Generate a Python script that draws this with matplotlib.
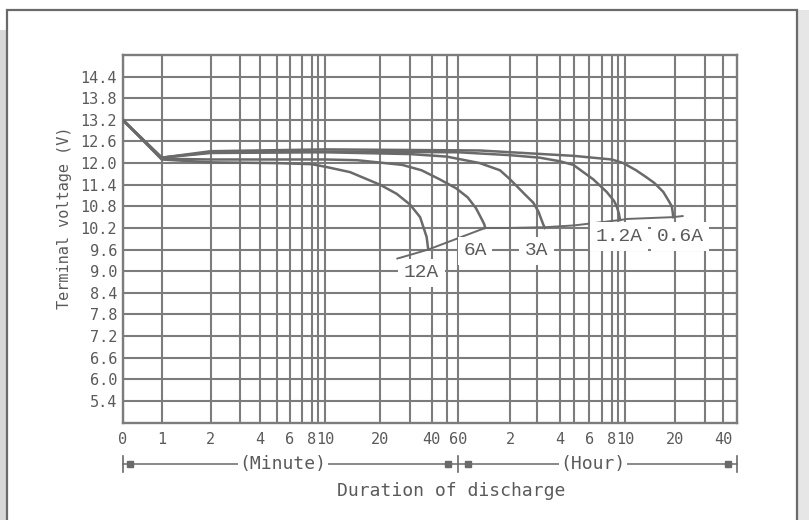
import numpy as np
import matplotlib
matplotlib.use("Agg")
import matplotlib.pyplot as plt
import matplotlib.transforms as mtrans
from matplotlib.patches import Rectangle
from matplotlib.ticker import FixedLocator, NullFormatter

# ---------------- data (time in minutes, voltage in V) ----------------
series_labels = ["12A", "6A", "3A", "1.2A", "0.6A"]

t_12A = [0, 1, 2, 5, 8, 10, 13.7, 20, 25, 30, 34.3, 37.4, 38.2]
v_12A = [13.2, 12.1, 12.02, 12.0, 11.97, 11.9, 11.75, 11.4, 11.15, 10.85, 10.5, 9.95, 9.6]

t_6A = [0, 1, 2, 10, 15, 27, 35, 45, 58, 68, 76, 82, 85, 86]
v_6A = [13.2, 12.12, 12.1, 12.1, 12.08, 11.95, 11.8, 11.55, 11.3, 11.05, 10.75, 10.45, 10.3, 10.2]

t_3A = [0, 1, 2, 10, 30, 50, 80, 105, 120, 153, 171, 184, 195, 199]
v_3A = [13.2, 12.15, 12.28, 12.3, 12.25, 12.18, 12.0, 11.8, 11.55, 11.1, 10.9, 10.65, 10.3, 10.2]

t_1p2A = [0, 1, 2, 10, 60, 120, 187, 240, 297, 335, 378, 449, 500, 525, 545, 555]
v_1p2A = [13.2, 12.15, 12.3, 12.32, 12.3, 12.22, 12.15, 12.05, 11.95, 11.75, 11.55, 11.2, 10.95, 10.8, 10.6, 10.42]

t_0p6A = [0, 1, 2, 10, 80, 300, 480, 584, 700, 811, 900, 1020, 1100, 1148, 1165, 1170]
v_0p6A = [13.2, 12.15, 12.33, 12.38, 12.35, 12.2, 12.1, 12.0, 11.8, 11.6, 11.45, 11.2, 10.95, 10.8, 10.6, 10.5]

# end-of-discharge line
t_end = [25.3, 38.2, 86, 120, 199, 300, 555, 620, 1170, 1330]
v_end = [9.35, 9.6, 10.2, 10.2, 10.22, 10.27, 10.42, 10.45, 10.5, 10.53]

# label anchors (minutes, volts)
label_t = [35, 75, 180, 546, 1285]
label_v = [8.95, 9.57, 9.57, 9.96, 9.96]

# axis ticks
x_tick_minutes = [0, 1, 2, 4, 6, 8, 10, 20, 40, 60, 120, 240, 360, 480, 600, 1200, 2400]
x_tick_labels = ["0", "1", "2", "4", "6", "8", "10", "20", "40", "60",
                 "2", "4", "6", "8", "10", "20", "40"]
grid_minutes = [1, 2, 3, 4, 5, 6, 7, 8, 9, 10, 20, 30, 40, 50, 60, 120, 180, 240,
                300, 360, 420, 480, 540, 600, 1200, 1800, 2400]
y_tick_values = [14.4, 13.8, 13.2, 12.6, 12.0, 11.4, 10.8, 10.2, 9.6, 9.0,
                 8.4, 7.8, 7.2, 6.6, 6.0, 5.4]
y_tick_labels = ["14.4", "13.8", "13.2", "12.6", "12.0", "11.4", "10.8", "10.2",
                 "9.6", "9.0", "8.4", "7.8", "7.2", "6.6", "6.0", "5.4"]

# ---------------- hand-drawn time axis scale ----------------
SCALE_T = np.array([0, 1, 2, 3, 4, 5, 6, 7, 8, 9, 10, 20, 30, 40, 50, 60, 120, 180,
                    240, 300, 360, 420, 480, 540, 600, 1200, 1800, 2400, 3000], float)
SCALE_P = np.array([122.7, 161.7, 210.7, 240, 260, 276.7, 290, 301.7, 311.7, 318.3,
                    325, 380, 410, 431.7, 446.7, 458.3, 510, 536.7, 560, 574, 589.3,
                    601.7, 611.7, 618.3, 625, 675, 705, 723.3, 736.7])


def _to_l(t):
    t = np.asarray(t, float)
    return np.where(t > 1, np.log10(np.maximum(t, 1)), t - 1)


SCALE_L = _to_l(SCALE_T)


def fwd(t):
    return np.interp(_to_l(t), SCALE_L, SCALE_P)


def inv(p):
    l = np.interp(np.asarray(p, float), SCALE_P, SCALE_L)
    return np.where(l > 0, 10 ** np.maximum(l, 0), l + 1)


# ---------------- figure ----------------
W, H = 809, 520
fig = plt.figure(figsize=(W / 100, H / 100), dpi=100)
fig.patch.set_facecolor("white")

# outer panel decoration (behind the axes)
fig.patches.append(Rectangle((0, 0), 7 / W, 1 - 30 / H, transform=fig.transFigure,
                             facecolor="#d8d8d8", edgecolor="none", zorder=-3))
fig.patches.append(Rectangle((797 / W, 0), 12 / W, 1 - 10 / H, transform=fig.transFigure,
                             facecolor="#e6e6e6", edgecolor="none", zorder=-3))
fig.patches.append(Rectangle((7 / W, -0.05), 790 / W, 1.05 - 10 / H, transform=fig.transFigure,
                             facecolor="white", edgecolor="#6a6a6a", lw=1.6, zorder=-2))

GRID = "#7c7c7c"
LINE = "#6a6a6a"
TXT = "#5a5a5a"
MONO = "DejaVu Sans Mono"

ax = fig.add_axes([122.7 / W, 1 - 422.5 / H, (736.7 - 122.7) / W, (422.5 - 55) / H])
ax.set_zorder(1)
ax.set_xscale("function", functions=(fwd, inv))
ax.set_xlim(0, 3000)
ax.set_ylim(4.8, 15.0)

ax.xaxis.set_major_locator(FixedLocator(x_tick_minutes))
ax.set_xticklabels(x_tick_labels)
ax.xaxis.set_minor_locator(FixedLocator(grid_minutes))
ax.xaxis.set_minor_formatter(NullFormatter())
ax.set_yticks(y_tick_values)
ax.set_yticklabels(y_tick_labels)

ax.tick_params(which="both", length=0, colors=TXT)
ax.tick_params(axis="x", pad=7, labelsize=11)
ax.tick_params(axis="y", pad=4, labelsize=11)
for lab in ax.get_xticklabels() + ax.get_yticklabels():
    lab.set_family(MONO)

ax.grid(which="both", axis="x", color=GRID, lw=1.5)
ax.grid(which="major", axis="y", color=GRID, lw=1.5)
ax.set_axisbelow(True)
for s in ax.spines.values():
    s.set_color(GRID)
    s.set_linewidth(1.7)

series = [(t_12A, v_12A), (t_6A, v_6A), (t_3A, v_3A), (t_1p2A, v_1p2A), (t_0p6A, v_0p6A)]
for t, v in series:
    ax.plot(t, v, color=LINE, lw=1.8, zorder=3)
ax.plot(t_end, v_end, color=LINE, lw=1.4, zorder=3)

for lab, tx, vy in zip(series_labels, label_t, label_v):
    ax.text(tx, vy, lab, ha="center", va="center", family="Liberation Mono",
            fontsize=14, color=TXT, zorder=6,
            bbox=dict(facecolor="white", edgecolor="none", pad=4))

# axis titles
fig.text(65 / W, 1 - 218 / H, "Terminal voltage (V)", rotation=90, ha="center",
         va="center", family=MONO, fontsize=11, color=TXT)
fig.text(451 / W, 1 - 491 / H, "Duration of discharge", ha="center", va="center",
         family=MONO, fontsize=13, color=TXT)

# (Minute) / (Hour) bracket row
yb = 1 - 464 / H
trans = mtrans.blended_transform_factory(ax.transData, fig.transFigure)
ax.plot([0, 3000], [yb, yb], transform=trans, clip_on=False, color=LINE, lw=1.1, zorder=2)
for xv in [0, 60, 3000]:
    ax.plot([xv, xv], [yb - 8 / H, yb + 8 / H], transform=trans, clip_on=False,
            color=LINE, lw=1.2)
for xv, dx in [(0, 7), (60, -10), (60, 10), (3000, -9)]:
    tr = mtrans.offset_copy(trans, fig=fig, x=dx, y=0, units="dots")
    ax.plot([xv], [yb], marker="s", ms=4, color=LINE, transform=tr, clip_on=False)
tb = mtrans.blended_transform_factory(ax.transAxes, fig.transFigure)
for xf, s in [(0.261, "(Minute)"), (0.766, "(Hour)")]:
    ax.text(xf, yb, s, transform=tb, ha="center", va="center", family=MONO,
            fontsize=13, color=TXT, clip_on=False, zorder=5,
            bbox=dict(facecolor="white", edgecolor="none", pad=1))

fig.savefig("out.png", dpi=100)
